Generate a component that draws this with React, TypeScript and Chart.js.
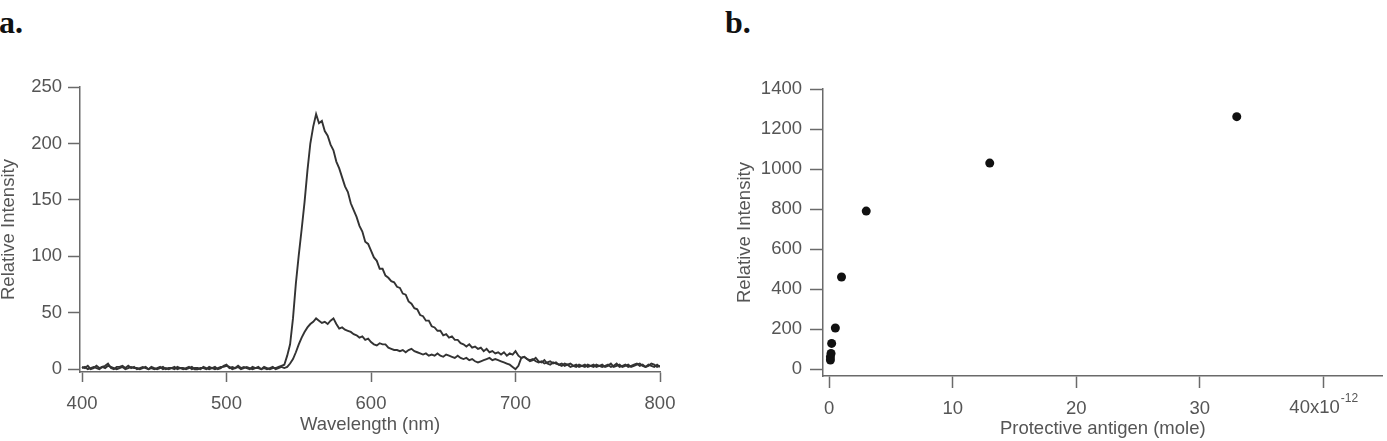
import React, { useEffect, useRef } from "react";
import { Chart, registerables } from "chart.js";

Chart.register(...registerables);

// ---------- Panel a: emission spectra ----------
const wavelengthStart = 400;
const wavelengthStep = 2;

const spectrumHigh = [
  2, 1, 3, 0, 1, 3, 1, 2, 3, 5,
  1, 0, 2, 2, 3, 1, 3, 1, 2, 0,
  1, 2, 1, 0, 2, 1, 0, 1, 2, 0,
  1, 1, 0, 2, 1, 0, 1, 2, 0, 1,
  1, 0, 2, 1, 0, 1, 2, 0, 1, 3,
  4, 1, 2, 1, 3, 1, 2, 1, 0, 2,
  1, 1, 0, 2, 1, 0, 1, 1, 2, 3,
  4, 12, 22, 45, 76, 101, 124, 148, 176, 200,
  215, 226, 218, 220, 211, 207, 199, 194, 184, 178,
  170, 162, 157, 147, 141, 135, 127, 122, 113, 111,
  105, 99, 96, 89, 89, 83, 81, 78, 77, 73,
  72, 67, 66, 60, 58, 54, 53, 48, 47, 43,
  43, 38, 37, 34, 34, 30, 31, 28, 29, 26,
  26, 23, 22, 20, 22, 19, 20, 18, 19, 16,
  18, 15, 16, 14, 15, 13, 15, 12, 14, 13,
  16, 12, 10, 11, 9, 8, 9, 7, 6, 7,
  5, 6, 7, 5, 6, 4, 5, 3, 4, 5,
  3, 2, 4, 3, 2, 4, 3, 2, 4, 3,
  2, 3, 4, 2, 3, 5, 2, 3, 4, 2,
  3, 4, 5, 3, 4, 2, 3, 5, 4, 2,
  3,
];

const spectrumLow = [
  1, 2, 0, 1, 2, 1, 0, 2, 1, 3,
  2, 1, 0, 1, 2, 0, 1, 2, 1, 1,
  0, 1, 2, 0, 1, 0, 1, 2, 0, 1,
  0, 1, 2, 0, 1, 1, 0, 1, 2, 0,
  0, 1, 1, 0, 2, 1, 0, 1, 2, 2,
  3, 2, 0, 1, 2, 0, 1, 2, 1, 0,
  1, 2, 0, 1, 0, 1, 2, 0, 1, 2,
  1, 2, 5, 9, 15, 22, 28, 33, 37, 40,
  42, 45, 43, 41, 42, 40, 43, 45, 40, 36,
  37, 35, 34, 33, 31, 30, 28, 29, 26, 27,
  24, 22, 21, 23, 22, 22, 19, 18, 17, 17,
  16, 17, 15, 17, 18, 16, 15, 14, 13, 14,
  12, 13, 12, 14, 12, 11, 13, 12, 11, 10,
  12, 10, 9, 10, 8, 9, 7, 6, 7, 8,
  9, 10, 8, 9, 8, 7, 6, 5, 4, 2,
  0, 3, 10, 11, 9, 7, 8, 10, 7, 6,
  8, 5, 4, 6, 5, 4, 3, 5, 4, 2,
  3, 4, 2, 3, 4, 2, 3, 4, 2, 3,
  4, 2, 3, 5, 2, 3, 4, 2, 3, 4,
  2, 3, 4, 5, 3, 2, 4, 3, 2, 4,
  2,
];

const wavelengthTicks = [400, 500, 600, 700, 800];
const intensityTicksA = [0, 50, 100, 150, 200, 250];

// ---------- Panel b: intensity vs protective antigen ----------
const antigenMoles = [0.1, 0.1, 0.15, 0.2, 0.5, 1, 3, 13, 33];
const antigenIntensity = [45, 60, 78, 128, 205, 460, 790, 1030, 1262];
const antigenTicks = [0, 10, 20, 30, 40];
const intensityTicksB = [0, 200, 400, 600, 800, 1000, 1200, 1400];

const FAMILY = "'Liberation Sans', Arial, Helvetica, sans-serif";
const TEXT = "#555555";
const AXIS = "#6a6a6a";
const FS = 18.5;
const FS_EXP = 12;

function toPoints(values: number[]) {
  return values.map((v, i) => ({ x: wavelengthStart + i * wavelengthStep, y: v }));
}

const expLabelPlugin = {
  id: "expLabel",
  afterDraw(chart: any) {
    const xs = chart.scales.x;
    const ctx = chart.ctx as CanvasRenderingContext2D;
    const last = antigenTicks[antigenTicks.length - 1];
    const px = xs.getPixelForValue(last);
    const main = `${last}x10`;
    const exp = "-12";
    ctx.save();
    ctx.font = `${FS}px ${FAMILY}`;
    const w1 = ctx.measureText(main).width;
    ctx.font = `${FS_EXP}px ${FAMILY}`;
    const w2 = ctx.measureText(exp).width;
    const start = px - (w1 + w2) / 2;
    const top = xs.top + 12 + 11;
    ctx.fillStyle = TEXT;
    ctx.textBaseline = "top";
    ctx.textAlign = "left";
    ctx.font = `${FS}px ${FAMILY}`;
    ctx.fillText(main, start, top);
    ctx.font = `${FS_EXP}px ${FAMILY}`;
    ctx.fillText(exp, start + w1 + 1, top - 6);
    ctx.restore();
  },
};

export default function App() {
  const refA = useRef<HTMLCanvasElement | null>(null);
  const refB = useRef<HTMLCanvasElement | null>(null);

  useEffect(() => {
    const font = { family: FAMILY, size: FS };
    const chartA = new Chart(refA.current as HTMLCanvasElement, {
      type: "line",
      data: {
        datasets: [
          {
            data: toPoints(spectrumHigh),
            borderColor: "#333333",
            borderWidth: 1.9,
            pointRadius: 0,
            tension: 0,
            fill: false,
          },
          {
            data: toPoints(spectrumLow),
            borderColor: "#333333",
            borderWidth: 1.9,
            pointRadius: 0,
            tension: 0,
            fill: false,
          },
        ],
      },
      options: {
        responsive: false,
        animation: false,
        layout: { padding: { top: 16, right: 30, left: 0, bottom: 0 } },
        plugins: { legend: { display: false }, tooltip: { enabled: false } },
        scales: {
          x: {
            type: "linear",
            min: 398.6,
            max: 800,
            afterBuildTicks: (s: any) => {
              s.ticks = wavelengthTicks.map((v) => ({ value: v }));
            },
            afterFit: (s: any) => {
              s.height = 69;
            },
            grid: { drawOnChartArea: false, drawTicks: true, tickLength: 10, tickColor: AXIS, tickWidth: 1.5 },
            border: { display: true, color: AXIS, width: 1.5 },
            ticks: { color: TEXT, font, padding: 11, maxRotation: 0, autoSkip: false, callback: (v: any) => String(v) },
            title: { display: true, text: "Wavelength (nm)", color: TEXT, font, padding: { top: 0, bottom: 5 } },
          },
          y: {
            type: "linear",
            min: -2.5,
            max: 250,
            afterBuildTicks: (s: any) => {
              s.ticks = intensityTicksA.map((v) => ({ value: v }));
            },
            afterFit: (s: any) => {
              s.width = 80;
            },
            grid: { drawOnChartArea: false, drawTicks: true, tickLength: 12, tickColor: AXIS, tickWidth: 1.5 },
            border: { display: true, color: AXIS, width: 1.5 },
            ticks: { color: TEXT, font, padding: 6, autoSkip: false, callback: (v: any) => String(v) },
            title: { display: true, text: "Relative Intensity", color: TEXT, font, padding: { top: -2, bottom: 0 } },
          },
        },
      },
    } as any);

    const chartB = new Chart(refB.current as HTMLCanvasElement, {
      type: "scatter",
      data: {
        datasets: [
          {
            data: antigenMoles.map((x, i) => ({ x, y: antigenIntensity[i] })),
            backgroundColor: "#111111",
            borderWidth: 0,
            pointRadius: 4.5,
          },
        ],
      },
      options: {
        responsive: false,
        animation: false,
        layout: { padding: { top: 19, right: 2, left: 0, bottom: 0 } },
        plugins: { legend: { display: false }, tooltip: { enabled: false } },
        scales: {
          x: {
            type: "linear",
            min: -0.5,
            max: 44.8,
            afterBuildTicks: (s: any) => {
              s.ticks = antigenTicks.map((v) => ({ value: v }));
            },
            afterFit: (s: any) => {
              s.height = 65;
            },
            grid: { drawOnChartArea: false, drawTicks: true, tickLength: 12, tickColor: AXIS, tickWidth: 1.5 },
            border: { display: true, color: AXIS, width: 1.5 },
            ticks: {
              color: TEXT,
              font,
              padding: 10,
              maxRotation: 0,
              autoSkip: false,
              callback: (v: any) => (v === antigenTicks[antigenTicks.length - 1] ? "" : String(v)),
            },
            title: { display: true, text: "Protective antigen (mole)", color: TEXT, font, padding: { top: 0, bottom: 1 } },
          },
          y: {
            type: "linear",
            min: -35,
            max: 1400,
            afterBuildTicks: (s: any) => {
              s.ticks = intensityTicksB.map((v) => ({ value: v }));
            },
            afterFit: (s: any) => {
              s.width = 133;
            },
            grid: { drawOnChartArea: false, drawTicks: true, tickLength: 13, tickColor: AXIS, tickWidth: 1.5 },
            border: { display: true, color: AXIS, width: 1.5 },
            ticks: { color: TEXT, font, padding: 8, autoSkip: false, callback: (v: any) => String(v) },
            title: { display: true, text: "Relative Intensity", color: TEXT, font, padding: { top: 44, bottom: 0 } },
          },
        },
      },
      plugins: [expLabelPlugin],
    } as any);

    return () => {
      chartA.destroy();
      chartB.destroy();
    };
  }, []);

  const labelStyle: React.CSSProperties = {
    position: "absolute",
    top: 6,
    fontFamily: "'Liberation Serif', 'Times New Roman', serif",
    fontWeight: "bold",
    fontSize: 32,
    lineHeight: "32px",
    color: "#111",
  };

  return (
    <div style={{ position: "fixed", left: 0, top: 0, width: 1387, height: 441, background: "#fff", overflow: "hidden" }}>
      <div style={{ ...labelStyle, left: -1 }}>a.</div>
      <div style={{ ...labelStyle, left: 725 }}>b.</div>
      <canvas
        ref={refA}
        width={690}
        height={371}
        style={{ position: "absolute", left: 0, top: 70, width: 690, height: 371 }}
      />
      <canvas
        ref={refB}
        width={697}
        height={371}
        style={{ position: "absolute", left: 690, top: 70, width: 697, height: 371 }}
      />
    </div>
  );
}
